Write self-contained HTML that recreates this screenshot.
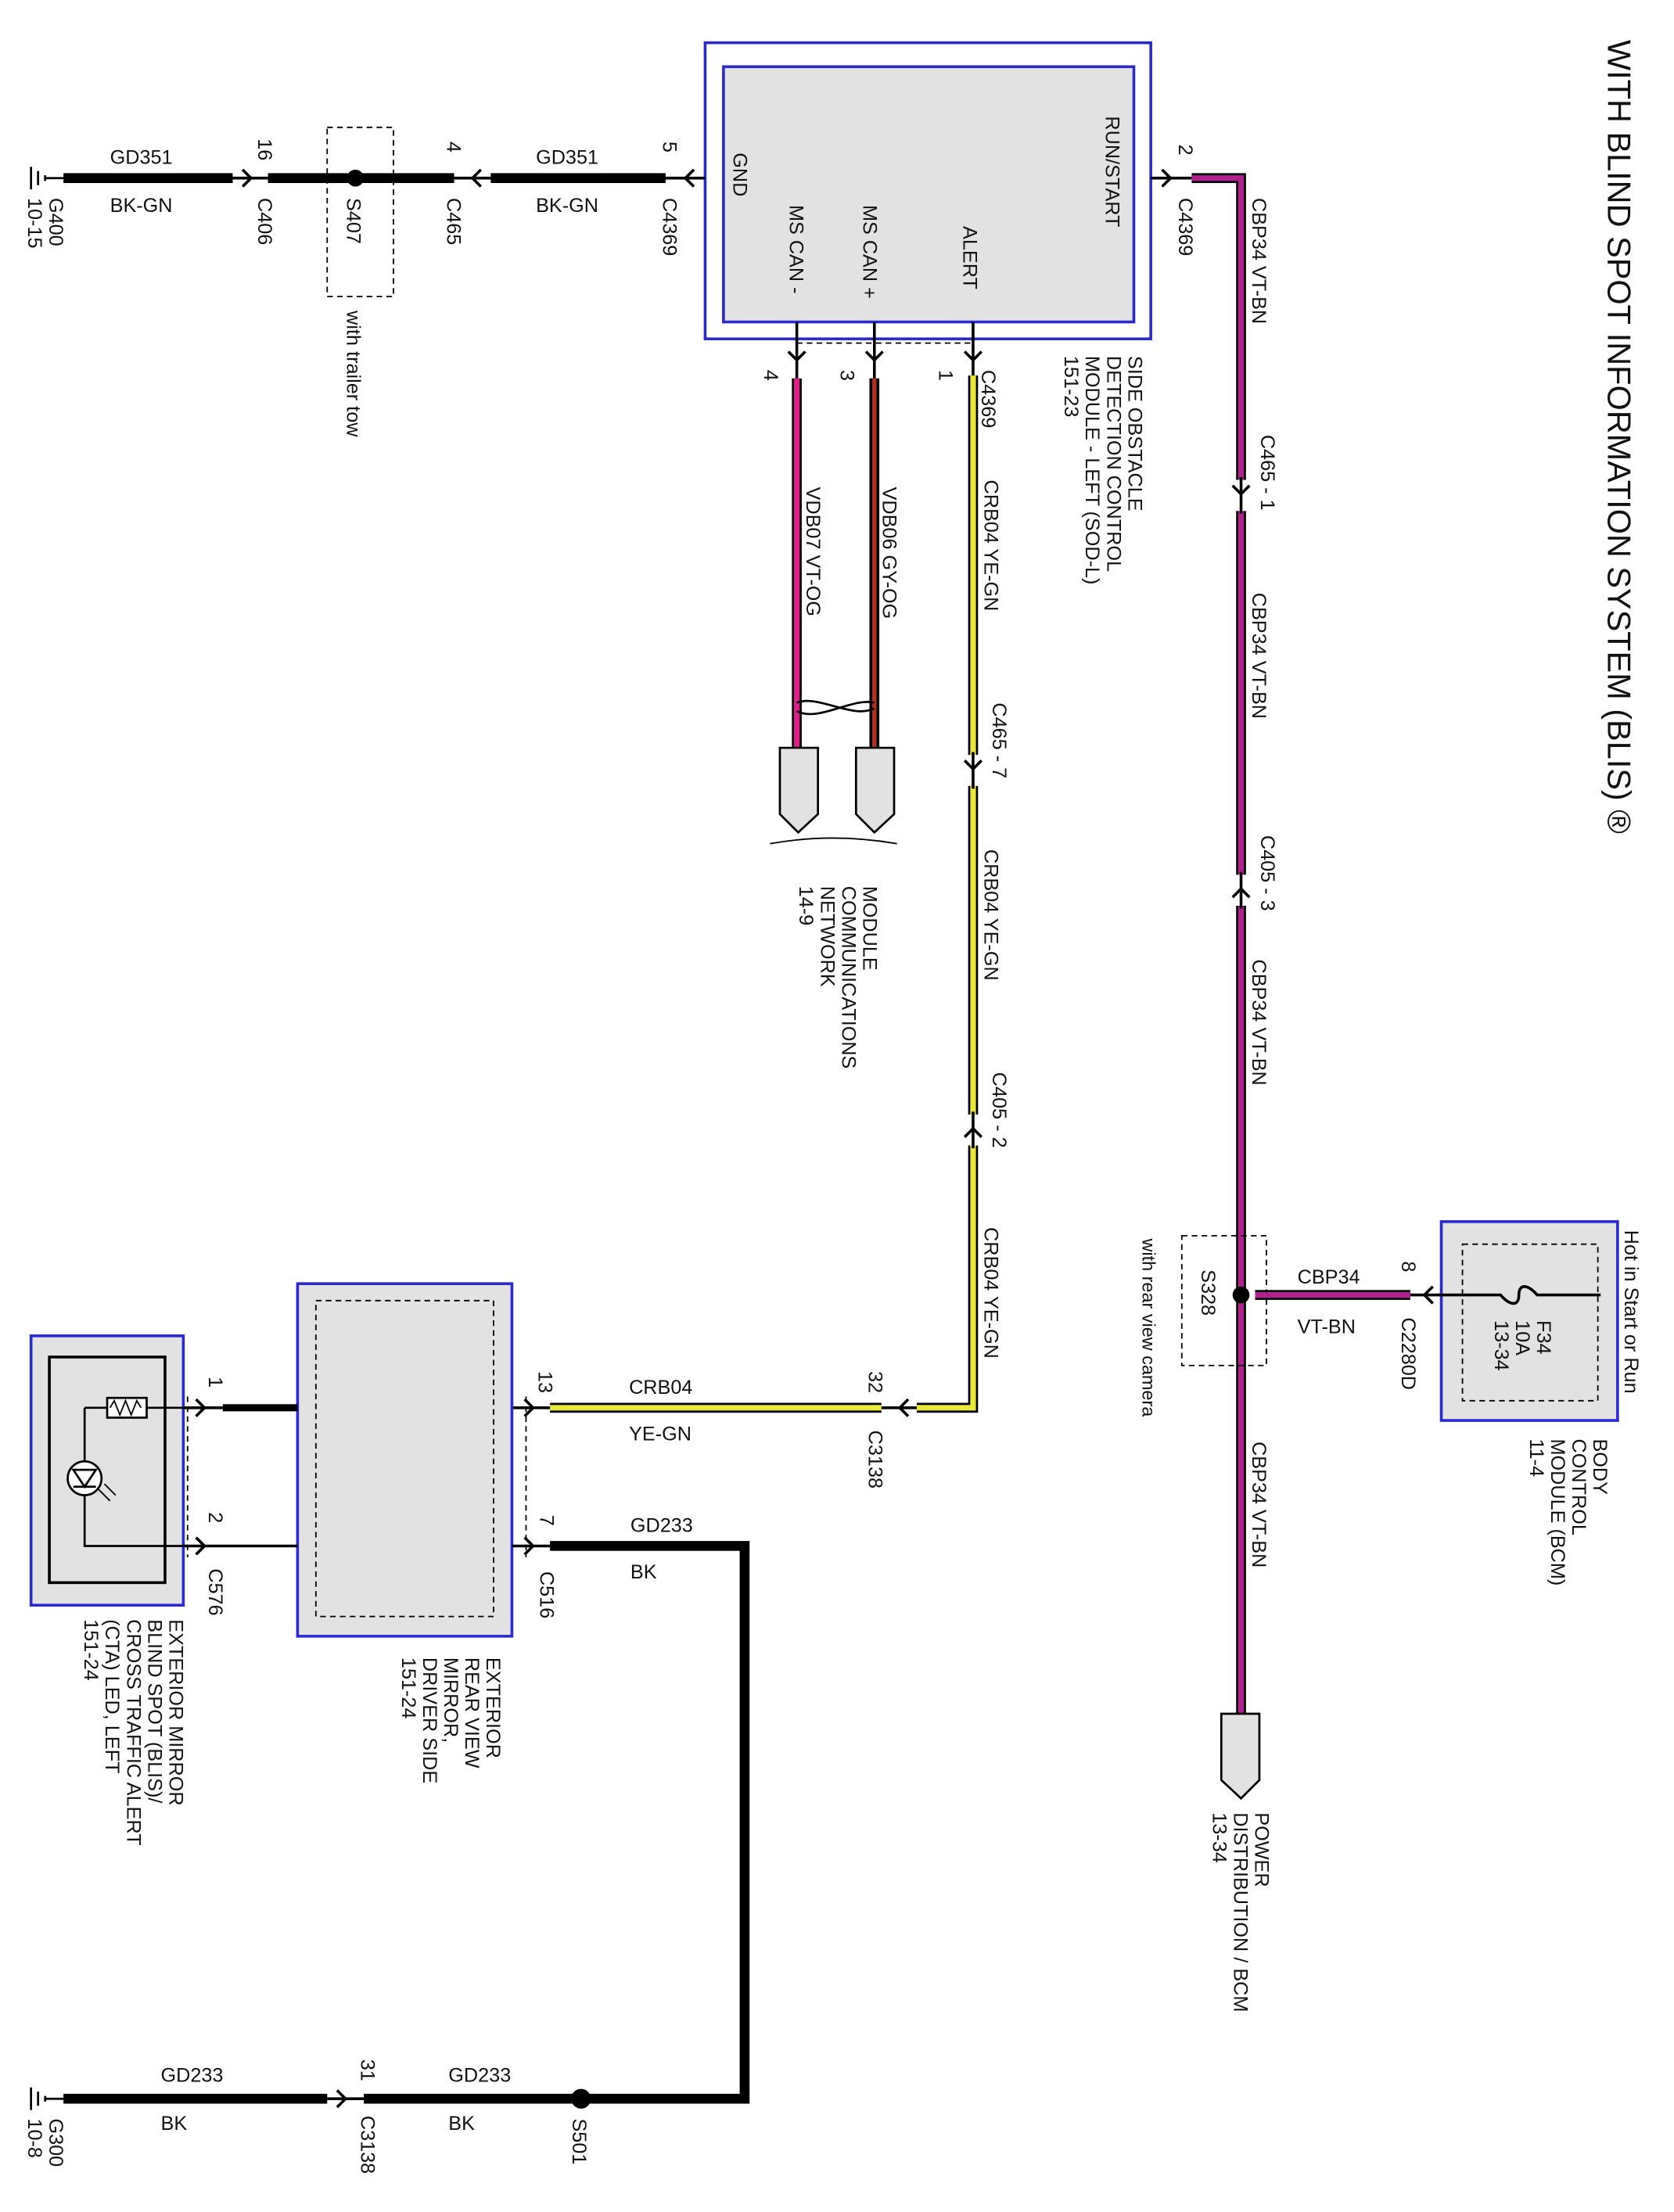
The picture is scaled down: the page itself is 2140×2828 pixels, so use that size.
<!DOCTYPE html>
<html><head><meta charset="utf-8"><style>
html,body{margin:0;padding:0;background:#fff}
svg{display:block}
text{font-family:"Liberation Sans",Arial,sans-serif;font-size:14px;fill:#111}
</style></head><body>
<svg width="2140" height="2828" viewBox="0 0 1187 1568" xmlns="http://www.w3.org/2000/svg">
<rect width="1187" height="1568" fill="#fff"/>
<!-- Title -->
<text transform="translate(1140,28) rotate(90)" style="font-size:23px">WITH BLIND SPOT INFORMATION SYSTEM (BLIS) ®</text>

<!-- SOD-L module -->
<rect x="500" y="30" width="316" height="210" fill="#fff" stroke="#2a2ad0" stroke-width="2"/>
<rect x="513" y="47" width="291" height="181" fill="#e2e2e2" stroke="#2a2ad0" stroke-width="2"/>
<text transform="translate(520,108) rotate(90)">GND</text>
<text transform="translate(560,145) rotate(90)">MS CAN -</text>
<text transform="translate(612,145) rotate(90)">MS CAN +</text>
<text transform="translate(683,160) rotate(90)">ALERT</text>
<text transform="translate(784,82) rotate(90)">RUN/START</text>
<line x1="565" y1="243" x2="690" y2="243" stroke="#000" stroke-dasharray="4,3"/>
<g transform="translate(800,252) rotate(90)">
<text x="0" y="0">SIDE OBSTACLE</text><text x="0" y="15">DETECTION CONTROL</text><text x="0" y="30">MODULE - LEFT (SOD-L)</text><text x="0" y="45">151-23</text></g>

<!-- G400 ground -->
<g stroke="#000" stroke-width="1.5"><line x1="22" y1="118" x2="22" y2="134"/><line x1="27" y1="121" x2="27" y2="131"/><line x1="32" y1="124" x2="32" y2="128"/><line x1="32" y1="126" x2="45" y2="126"/></g>
<g stroke="#000" stroke-width="7"><line x1="45" y1="126" x2="165" y2="126"/><line x1="190" y1="126" x2="322" y2="126"/><line x1="348" y1="126" x2="472" y2="126"/></g>
<g fill="none" stroke="#000" stroke-width="2"><line x1="165" y1="126" x2="190" y2="126"/><line x1="322" y1="126" x2="348" y2="126"/><line x1="472" y1="126" x2="500" y2="126"/>
<path d="M172 120 L178 126 L172 132"/><path d="M341 120 L335 126 L341 132"/><path d="M492 120 L486 126 L492 132"/></g>
<circle cx="252" cy="126" r="6" fill="#000"/>
<rect x="232" y="90" width="47" height="120" fill="none" stroke="#000" stroke-dasharray="4,3"/>
<text x="78" y="116">GD351</text><text x="78" y="150">BK-GN</text>
<text x="380" y="116">GD351</text><text x="380" y="150">BK-GN</text>
<text transform="translate(183,98) rotate(90)">16</text>
<text transform="translate(183,140) rotate(90)">C406</text>
<text transform="translate(246,140) rotate(90)">S407</text>
<text transform="translate(246,220) rotate(90)">with trailer tow</text>
<text transform="translate(317,100) rotate(90)">4</text>
<text transform="translate(317,140) rotate(90)">C465</text>
<text transform="translate(470,100) rotate(90)">5</text>
<text transform="translate(470,140) rotate(90)">C4369</text>
<text transform="translate(35,140) rotate(90)">G400</text>
<text transform="translate(20,140) rotate(90)">10-15</text>

<!-- RUN/START / CBP34 -->
<g fill="none" stroke="#000" stroke-width="2"><line x1="816" y1="126" x2="845" y2="126"/><path d="M824 120 L830 126 L824 132"/></g>
<path d="M845 126 L880 126 L880 1215" fill="none" stroke="#000" stroke-width="7"/>
<path d="M845 126 L880 126 L880 1215" fill="none" stroke="#b0208f" stroke-width="4"/>
<g stroke="#fff" stroke-width="9"><line x1="880" y1="340" x2="880" y2="362"/><line x1="880" y1="620" x2="880" y2="642"/></g>
<g fill="none" stroke="#000" stroke-width="2"><line x1="880" y1="338" x2="880" y2="364"/><line x1="880" y1="618" x2="880" y2="644"/>
<path d="M874 344 L880 350 L886 344"/><path d="M874 636 L880 630 L886 636"/></g>
<text transform="translate(836,102) rotate(90)">2</text>
<text transform="translate(836,140) rotate(90)">C4369</text>
<text transform="translate(888,140) rotate(90)">CBP34  VT-BN</text>
<text transform="translate(894,308) rotate(90)">C465 - 1</text>
<text transform="translate(888,420) rotate(90)">CBP34  VT-BN</text>
<text transform="translate(894,592) rotate(90)">C405 - 3</text>
<text transform="translate(888,680) rotate(90)">CBP34  VT-BN</text>
<text transform="translate(888,1022) rotate(90)">CBP34  VT-BN</text>
<rect x="838" y="876" width="60" height="92" fill="none" stroke="#000" stroke-dasharray="4,3"/>
<text transform="translate(852,900) rotate(90)">S328</text>
<text transform="translate(810,878) rotate(90)" style="font-size:13px">with rear view camera</text>
<path d="M866 1215 L893 1215 L893 1262 L880 1275 L866 1262 Z" fill="#e2e2e2" stroke="#000" stroke-width="1.5"/>
<g transform="translate(890,1285) rotate(90)"><text x="0" y="0">POWER</text><text x="0" y="15">DISTRIBUTION / BCM</text><text x="0" y="30">13-34</text></g>

<!-- BCM -->
<rect x="1022" y="866" width="125" height="141" fill="#e2e2e2" stroke="#2a2ad0" stroke-width="2"/>
<rect x="1037" y="882" width="96" height="111" fill="none" stroke="#000" stroke-dasharray="4,3"/>
<path d="M1135 918 L1090 918 C1083 910 1077 910 1077 918 C1077 926 1071 926 1064 918 L1020 918" fill="none" stroke="#000" stroke-width="2"/>
<g fill="none" stroke="#000" stroke-width="2"><line x1="1000" y1="918" x2="1022" y2="918"/><path d="M1016 912 L1010 918 L1016 924"/></g>
<line x1="890" y1="918" x2="1000" y2="918" stroke="#000" stroke-width="7"/>
<line x1="890" y1="918" x2="1000" y2="918" stroke="#b0208f" stroke-width="4"/>
<circle cx="880" cy="918" r="6" fill="#000"/>
<text x="920" y="910">CBP34</text><text x="920" y="945">VT-BN</text>
<text transform="translate(994,894) rotate(90)">8</text>
<text transform="translate(994,934) rotate(90)">C2280D</text>
<g transform="translate(1090,936) rotate(90)"><text x="0" y="0">F34</text><text x="0" y="15">10A</text><text x="0" y="30">13-34</text></g>
<text transform="translate(1152,872) rotate(90)">Hot in Start or Run</text>
<g transform="translate(1130,1020) rotate(90)"><text x="0" y="0">BODY</text><text x="0" y="15">CONTROL</text><text x="0" y="30">MODULE (BCM)</text><text x="0" y="45">11-4</text></g>

<!-- ALERT CRB04 -->
<g fill="none" stroke="#000" stroke-width="2"><line x1="690" y1="228" x2="690" y2="266"/><path d="M684 249 L690 255 L696 249"/></g>
<path d="M690 266 L690 998 L650 998" fill="none" stroke="#000" stroke-width="7"/>
<path d="M690 266 L690 998 L650 998" fill="none" stroke="#e8e83a" stroke-width="4"/>
<g stroke="#fff" stroke-width="9"><line x1="690" y1="535" x2="690" y2="557"/><line x1="690" y1="790" x2="690" y2="812"/></g>
<g fill="none" stroke="#000" stroke-width="2"><line x1="690" y1="533" x2="690" y2="559"/><line x1="690" y1="788" x2="690" y2="814"/>
<path d="M684 539 L690 545 L696 539"/><path d="M684 806 L690 800 L696 806"/>
<line x1="625" y1="998" x2="650" y2="998"/><path d="M644 992 L638 998 L644 1004"/>
<line x1="363" y1="998" x2="390" y2="998"/><path d="M372 992 L378 998 L372 1004"/></g>
<line x1="390" y1="998" x2="625" y2="998" stroke="#000" stroke-width="7"/>
<line x1="390" y1="998" x2="625" y2="998" stroke="#e8e83a" stroke-width="4"/>
<text transform="translate(696,262) rotate(90)">C4369</text>
<text transform="translate(666,262) rotate(90)">1</text>
<text transform="translate(698,340) rotate(90)">CRB04  YE-GN</text>
<text transform="translate(704,498) rotate(90)">C465 - 7</text>
<text transform="translate(698,602) rotate(90)">CRB04  YE-GN</text>
<text transform="translate(704,760) rotate(90)">C405 - 2</text>
<text transform="translate(698,870) rotate(90)">CRB04  YE-GN</text>
<text transform="translate(616,972) rotate(90)">32</text>
<text transform="translate(616,1014) rotate(90)">C3138</text>
<text x="446" y="988">CRB04</text><text x="446" y="1021">YE-GN</text>
<text transform="translate(382,972) rotate(90)">13</text>

<!-- MS CAN -->
<g fill="none" stroke="#000" stroke-width="2"><line x1="565" y1="228" x2="565" y2="268"/><path d="M559 249 L565 255 L571 249"/>
<line x1="620" y1="228" x2="620" y2="268"/><path d="M614 249 L620 255 L626 249"/></g>
<line x1="565" y1="268" x2="565" y2="530" stroke="#000" stroke-width="7"/>
<line x1="565" y1="268" x2="565" y2="530" stroke="#e0208a" stroke-width="4"/>
<line x1="620" y1="268" x2="620" y2="530" stroke="#000" stroke-width="7"/>
<line x1="620" y1="268" x2="620" y2="530" stroke="#b83020" stroke-width="3"/>
<path d="M565 498 C580 492 605 510 620 502 M565 504 C580 512 605 494 620 498" fill="none" stroke="#000" stroke-width="1.5"/>
<path d="M553 530 L580 530 L580 577 L566 590 L553 577 Z" fill="#e2e2e2" stroke="#000" stroke-width="1.5"/>
<path d="M607 530 L634 530 L634 577 L620 590 L607 577 Z" fill="#e2e2e2" stroke="#000" stroke-width="1.5"/>
<path d="M546 598 Q590 590 636 598" fill="none" stroke="#000"/>
<text transform="translate(542,262) rotate(90)">4</text>
<text transform="translate(596,262) rotate(90)">3</text>
<text transform="translate(572,345) rotate(90)">VDB07  VT-OG</text>
<text transform="translate(626,345) rotate(90)">VDB06  GY-OG</text>
<g transform="translate(612,628) rotate(90)"><text x="0" y="0">MODULE</text><text x="0" y="15">COMMUNICATIONS</text><text x="0" y="30">NETWORK</text><text x="0" y="45">14-9</text></g>

<!-- Mirror module -->
<rect x="211" y="910" width="152" height="250" fill="#e2e2e2" stroke="#2a2ad0" stroke-width="2"/>
<rect x="224" y="922" width="126" height="224" fill="none" stroke="#000" stroke-dasharray="4,3"/>
<line x1="373" y1="990" x2="373" y2="1104" stroke="#000" stroke-dasharray="4,3"/>
<g transform="translate(345,1175) rotate(90)"><text x="0" y="0">EXTERIOR</text><text x="0" y="15">REAR VIEW</text><text x="0" y="30">MIRROR,</text><text x="0" y="45">DRIVER SIDE</text><text x="0" y="60">151-24</text></g>
<text transform="translate(383,1074) rotate(90)">7</text>
<text transform="translate(383,1114) rotate(90)">C516</text>

<!-- LED module -->
<rect x="22" y="947" width="108" height="191" fill="#e2e2e2" stroke="#2a2ad0" stroke-width="2"/>
<rect x="35" y="962" width="82" height="160" fill="none" stroke="#000" stroke-width="2"/>
<rect x="76" y="991" width="28" height="14" fill="#fff" stroke="#000" stroke-width="1.5"/>
<path d="M78 998 l3 -5 l4 10 l4 -10 l4 10 l4 -10 l3 5" fill="none" stroke="#000"/>
<path d="M60 998 L76 998 M104 998 L130 998 M60 998 L60 1036 M60 1060 L60 1096 L130 1096" fill="none" stroke="#000" stroke-width="1.5"/>
<circle cx="60" cy="1048" r="12" fill="#fff" stroke="#000" stroke-width="1.5"/>
<path d="M52 1042 L68 1042 L60 1054 Z M52 1054 L68 1054" fill="none" stroke="#000" stroke-width="1.5"/>
<path d="M70 1056 L78 1064 M74 1052 L82 1060" stroke="#000"/>
<line x1="133" y1="990" x2="133" y2="1104" stroke="#000" stroke-dasharray="4,3"/>
<g fill="none" stroke="#000" stroke-width="2"><line x1="130" y1="998" x2="158" y2="998"/><path d="M139 992 L145 998 L139 1004"/>
<line x1="130" y1="1096" x2="211" y2="1096"/><path d="M139 1090 L145 1096 L139 1102"/></g>
<line x1="158" y1="998" x2="211" y2="998" stroke="#000" stroke-width="5"/>
<text transform="translate(148,976) rotate(90)">1</text>
<text transform="translate(148,1072) rotate(90)">2</text>
<text transform="translate(148,1112) rotate(90)">C576</text>
<g transform="translate(120,1148) rotate(90)"><text x="0" y="0">EXTERIOR MIRROR</text><text x="0" y="15">BLIND SPOT (BLIS)/</text><text x="0" y="30">CROSS TRAFFIC ALERT</text><text x="0" y="45">(CTA) LED, LEFT</text><text x="0" y="60">151-24</text></g>

<!-- GD233 -->
<g fill="none" stroke="#000" stroke-width="2"><line x1="363" y1="1096" x2="390" y2="1096"/><path d="M372 1090 L378 1096 L372 1102"/></g>
<path d="M390 1096 L528 1096 L528 1488 L405 1488" fill="none" stroke="#000" stroke-width="7"/>
<circle cx="412" cy="1488" r="7" fill="#000"/>
<line x1="258" y1="1488" x2="405" y2="1488" stroke="#000" stroke-width="7"/>
<line x1="45" y1="1488" x2="232" y2="1488" stroke="#000" stroke-width="7"/>
<g fill="none" stroke="#000" stroke-width="2"><line x1="232" y1="1488" x2="258" y2="1488"/><path d="M239 1482 L245 1488 L239 1494"/></g>
<g stroke="#000" stroke-width="1.5"><line x1="22" y1="1480" x2="22" y2="1496"/><line x1="27" y1="1483" x2="27" y2="1493"/><line x1="32" y1="1486" x2="32" y2="1490"/><line x1="32" y1="1488" x2="45" y2="1488"/></g>
<text x="447" y="1086">GD233</text><text x="447" y="1119">BK</text>
<text x="114" y="1476">GD233</text><text x="114" y="1510">BK</text>
<text x="318" y="1476">GD233</text><text x="318" y="1510">BK</text>
<text transform="translate(406,1502) rotate(90)">S501</text>
<text transform="translate(256,1460) rotate(90)">31</text>
<text transform="translate(256,1500) rotate(90)">C3138</text>
<text transform="translate(35,1502) rotate(90)">G300</text>
<text transform="translate(20,1502) rotate(90)">10-8</text>
</svg>
</body></html>
